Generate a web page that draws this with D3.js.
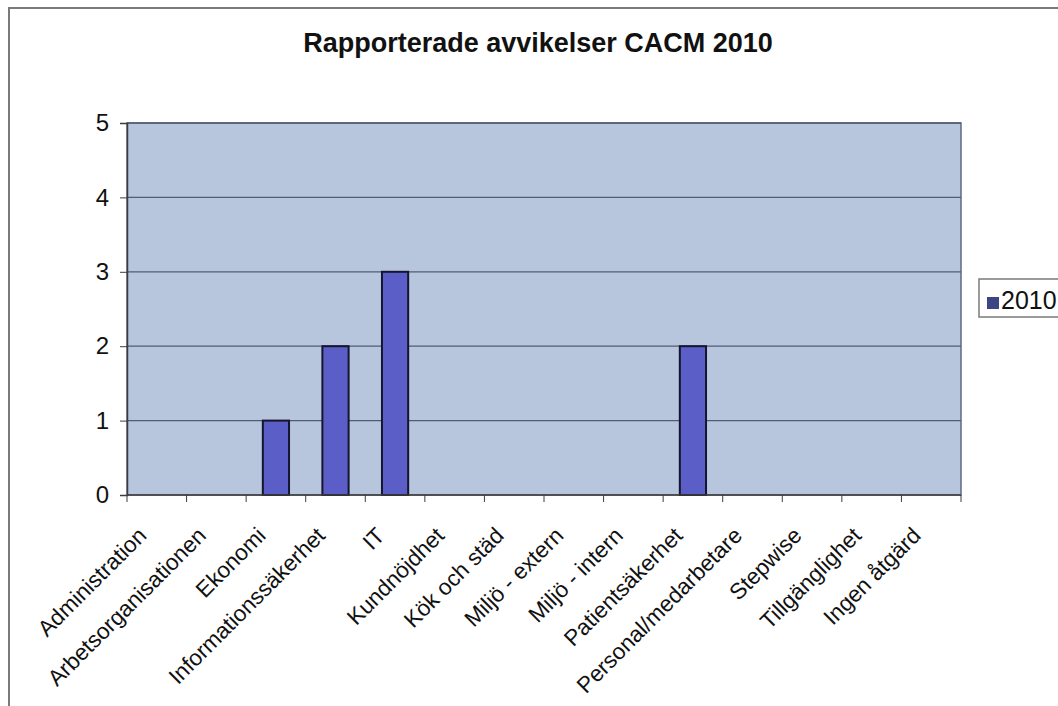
<!DOCTYPE html>
<html>
<head>
<meta charset="utf-8">
<script src="https://cdn.jsdelivr.net/npm/d3@7"></script>
<style>
body{margin:0;background:#fff;}
svg{display:block;font-family:Arial,"Liberation Sans",sans-serif;}
</style>
</head>
<body>
<svg id="chart" width="1058" height="706"></svg>
<script>
// data
var categories = ["Administration","Arbetsorganisationen","Ekonomi","Informationssäkerhet","IT",
	"Kundnöjdhet","Kök och städ","Miljö - extern","Miljö - intern","Patientsäkerhet",
	"Personal/medarbetare","Stepwise","Tillgänglighet","Ingen åtgärd"];
var values2010 = [0,0,1,2,3,0,0,0,0,2,0,0,0,0];
var yTicks = [0,1,2,3,4,5];
var seriesName = "2010";
var title = "Rapporterade avvikelser CACM 2010";

var svg = d3.select("#chart");

// outer chart frame
svg.append("rect")
	.attr("x",9).attr("y",8).attr("width",1070).attr("height",710)
	.style("fill","none").style("stroke","#7a7a7a").style("stroke-width",2);

var plotL=127, plotR=961, plotT=123, plotB=495;

var x = d3.scaleBand().domain(categories).range([plotL,plotR]).paddingInner(0).paddingOuter(0);
var y = d3.scaleLinear().domain([0,5]).range([plotB,plotT]);

// plot background
svg.append("rect")
	.attr("x",plotL).attr("y",plotT).attr("width",plotR-plotL).attr("height",plotB-plotT)
	.style("fill","#b7c5dd").style("stroke","#5d6b80").style("stroke-width",1.5);

// gridlines
svg.append("g").selectAll("line").data(yTicks.filter(function(d){return d>0;}))
	.enter().append("line")
	.attr("x1",plotL).attr("x2",plotR)
	.attr("y1",function(d){return y(d);}).attr("y2",function(d){return y(d);})
	.style("stroke","#4f5d76").style("stroke-width",1.3);

// bars
var bw = x.bandwidth()*0.44;
svg.append("g").selectAll("rect").data(values2010)
	.enter().append("rect")
	.attr("x",function(d,i){return x(categories[i])+x.bandwidth()/2-bw/2;})
	.attr("y",function(d){return y(d);})
	.attr("width",bw)
	.attr("height",function(d){return plotB-y(d);})
	.style("fill","#5b5ec6").style("stroke","#15152e").style("stroke-width",2)
	.style("display",function(d){return d>0?null:"none";});

// y axis
var yAxis = d3.axisLeft(y).tickValues(yTicks).tickFormat(d3.format("d")).tickSize(7).tickPadding(11);
var gy = svg.append("g").attr("transform","translate("+plotL+",0)").call(yAxis);
gy.select(".domain").style("stroke","#3c3c3c").style("stroke-width",1.5);
gy.selectAll(".tick line").style("stroke","#3c3c3c");
gy.selectAll("text").style("font-size","24px").style("fill","#111").style("font-family","Arial,'Liberation Sans',sans-serif");

// x axis: ticks on category boundaries
var xBounds = categories.map(function(c){return x(c);}).concat([plotR]);
var gx = svg.append("g");
gx.append("line").attr("x1",plotL).attr("x2",plotR).attr("y1",plotB).attr("y2",plotB)
	.style("stroke","#3c3c3c").style("stroke-width",1.5);
gx.selectAll("line.tk").data(xBounds).enter().append("line").attr("class","tk")
	.attr("x1",function(d){return d;}).attr("x2",function(d){return d;})
	.attr("y1",plotB).attr("y2",plotB+7)
	.style("stroke","#3c3c3c");
gx.selectAll("text").data(categories).enter().append("text")
	.attr("transform",function(d){return "translate("+(x(d)+x.bandwidth()/2-9)+","+(plotB+42)+") rotate(-45)";})
	.attr("text-anchor","end")
	.style("font-size","22.5px").style("fill","#111")
	.text(function(d){return d;});

// title
svg.append("text")
	.attr("x",538).attr("y",52).attr("text-anchor","middle")
	.style("font-size","27px").style("font-weight","bold").style("fill","#111")
	.text(title);

// legend
var lg = svg.append("g");
lg.append("rect").attr("x",979).attr("y",279).attr("width",100).attr("height",38)
	.style("fill","#fff").style("stroke","#7a7a7a").style("stroke-width",1.5);
lg.append("rect").attr("x",987).attr("y",297).attr("width",12).attr("height",12)
	.style("fill","#3d4585");
lg.append("text").attr("x",1001).attr("y",309)
	.style("font-size","25px").style("fill","#111").text(seriesName);
</script>
</body>
</html>
